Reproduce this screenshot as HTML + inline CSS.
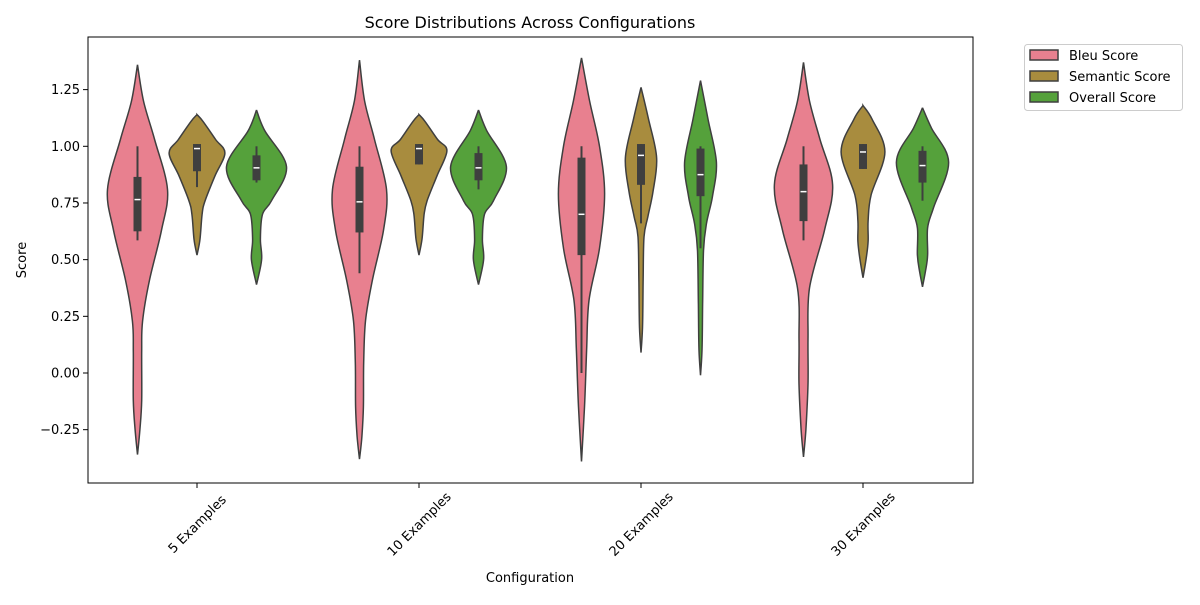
<!DOCTYPE html>
<html><head><meta charset="utf-8"><style>
body{margin:0;background:#fff;}
svg text{font-family:"DejaVu Sans","Liberation Sans",sans-serif;fill:#000;}
</style></head><body>
<svg id="chart" width="1200" height="600" viewBox="0 0 1200 600">
<rect x="0" y="0" width="1200" height="600" fill="#fff"/>
<g id="plot"></g>
<rect x="88" y="37" width="885" height="446" fill="none" stroke="#000" stroke-width="1"/>
<text x="530" y="28" font-size="16" text-anchor="middle">Score Distributions Across Configurations</text>
<text x="530" y="582" font-size="13" text-anchor="middle">Configuration</text>
<text x="26" y="260" font-size="13" text-anchor="middle" transform="rotate(-90 26 260)">Score</text>
<g id="axes"></g>
<g>
<rect x="1024.5" y="44.5" width="158" height="66" rx="3" fill="#fff" stroke="#ccc"/>
<g><rect x="1030" y="50" width="28" height="10" fill="#e8808f" stroke="#3f3f3f" stroke-width="1.5"/><text x="1069" y="60" font-size="13">Bleu Score</text></g>
<g><rect x="1030" y="71" width="28" height="10" fill="#a88c3e" stroke="#3f3f3f" stroke-width="1.5"/><text x="1069" y="81" font-size="13">Semantic Score</text></g>
<g><rect x="1030" y="92" width="28" height="10" fill="#55a13b" stroke="#3f3f3f" stroke-width="1.5"/><text x="1069" y="102" font-size="13">Overall Score</text></g>
</g>
</svg>
<script>
const categories = ["5 Examples","10 Examples","20 Examples","30 Examples"];
const seriesNames = ["Bleu Score","Semantic Score","Overall Score"];
const yTicks = [-0.25,0,0.25,0.5,0.75,1.0,1.25];
const yTickLabels = ["\u22120.25","0.00","0.25","0.50","0.75","1.00","1.25"];
// density outlines: score levels (top->bottom) and relative widths
const bleu5Vals = [1.36,1.20,1.03,0.81,0.63,0.41,0.23,0.10,-0.12,-0.25,-0.36];
const bleu5Dens = [0,0.2,0.57,1,0.8,0.4,0.17,0.14,0.14,0.08,0];
const sem5Vals = [1.14,1.11,1.03,0.97,0.87,0.76,0.70,0.59,0.52];
const sem5Dens = [0,0.2,0.62,0.93,0.6,0.27,0.17,0.1,0];
const ovr5Vals = [1.16,1.07,0.91,0.76,0.70,0.59,0.50,0.39];
const ovr5Dens = [0,0.27,1,0.5,0.2,0.13,0.17,0];
const bleu10Vals = [1.38,1.20,1.03,0.81,0.63,0.41,0.23,0.05,-0.15,-0.28,-0.38];
const bleu10Dens = [0,0.17,0.5,0.9,0.8,0.43,0.2,0.14,0.13,0.08,0];
const sem10Vals = [1.14,1.11,1.03,0.98,0.87,0.76,0.70,0.59,0.52];
const sem10Dens = [0,0.2,0.62,0.93,0.6,0.27,0.17,0.1,0];
const ovr10Vals = [1.16,1.07,0.91,0.76,0.70,0.59,0.50,0.39];
const ovr10Dens = [0,0.27,0.93,0.5,0.2,0.13,0.17,0];
const bleu20Vals = [1.39,1.20,1.00,0.79,0.55,0.32,0.10,-0.15,-0.39];
const bleu20Dens = [0,0.27,0.6,0.77,0.6,0.25,0.17,0.1,0];
const sem20Vals = [1.26,1.12,0.95,0.80,0.69,0.60,0.40,0.20,0.09];
const sem20Dens = [0,0.25,0.52,0.4,0.23,0.1,0.07,0.05,0];
const ovr20Vals = [1.29,1.12,0.93,0.78,0.66,0.54,0.30,0.10,-0.01];
const ovr20Dens = [0,0.25,0.53,0.4,0.2,0.1,0.07,0.05,0];
const bleu30Vals = [1.37,1.20,1.03,0.83,0.63,0.375,0.15,-0.05,-0.25,-0.37];
const bleu30Dens = [0,0.2,0.55,0.97,0.7,0.2,0.15,0.15,0.08,0];
const sem30Vals = [1.18,1.12,0.975,0.785,0.67,0.58,0.50,0.42];
const sem30Dens = [0,0.3,0.73,0.27,0.17,0.17,0.1,0];
const ovr30Vals = [1.17,1.08,0.93,0.73,0.64,0.52,0.45,0.38];
const ovr30Dens = [0,0.3,0.87,0.37,0.17,0.17,0.1,0];
// box stats: [whiskerLow, q1, median, q3, whiskerHigh]
const bleu5Box = [0.585,0.625,0.765,0.865,1.0];
const sem5Box = [0.82,0.89,0.99,1.01,1.01];
const ovr5Box = [0.84,0.85,0.905,0.96,1.0];
const bleu10Box = [0.44,0.62,0.755,0.91,1.0];
const sem10Box = [0.92,0.92,0.99,1.01,1.01];
const ovr10Box = [0.81,0.85,0.905,0.97,1.0];
const bleu20Box = [0.0,0.52,0.70,0.95,1.0];
const sem20Box = [0.66,0.83,0.96,1.01,1.01];
const ovr20Box = [0.55,0.78,0.875,0.99,1.0];
const bleu30Box = [0.585,0.67,0.80,0.92,1.0];
const sem30Box = [0.90,0.90,0.975,1.01,1.01];
const ovr30Box = [0.76,0.84,0.915,0.98,1.0];

const violinVals = [[bleu5Vals,sem5Vals,ovr5Vals],[bleu10Vals,sem10Vals,ovr10Vals],[bleu20Vals,sem20Vals,ovr20Vals],[bleu30Vals,sem30Vals,ovr30Vals]];
const violinDens = [[bleu5Dens,sem5Dens,ovr5Dens],[bleu10Dens,sem10Dens,ovr10Dens],[bleu20Dens,sem20Dens,ovr20Dens],[bleu30Dens,sem30Dens,ovr30Dens]];
const boxes = [[bleu5Box,sem5Box,ovr5Box],[bleu10Box,sem10Box,ovr10Box],[bleu20Box,sem20Box,ovr20Box],[bleu30Box,sem30Box,ovr30Box]];

const colors = ["#e8808f","#a88c3e","#55a13b"];
const NS="http://www.w3.org/2000/svg";
function y(v){return 373 - v*226.7;}
function xc(i,j){return 197 + i*222 + (j-1)*59.5;}
const HW=30;
function mk(tag,attrs,parent){const e=document.createElementNS(NS,tag);for(const k in attrs)e.setAttribute(k,attrs[k]);parent.appendChild(e);return e;}
function smooth(pts){
  let d="M"+pts[0][0]+","+pts[0][1];
  for(let i=0;i<pts.length-1;i++){
    const p0=pts[Math.max(0,i-1)],p1=pts[i],p2=pts[i+1],p3=pts[Math.min(pts.length-1,i+2)];
    const c1=[p1[0]+(p2[0]-p0[0])/6,p1[1]+(p2[1]-p0[1])/6];
    const c2=[p2[0]-(p3[0]-p1[0])/6,p2[1]-(p3[1]-p1[1])/6];
    d+=" C"+c1[0].toFixed(1)+","+c1[1].toFixed(1)+" "+c2[0].toFixed(1)+","+c2[1].toFixed(1)+" "+p2[0].toFixed(1)+","+p2[1].toFixed(1);
  }
  return d;
}
const plot=document.getElementById('plot');
const axes=document.getElementById('axes');
for(let i=0;i<categories.length;i++){
  for(let j=0;j<3;j++){
    const cx=xc(i,j), vals=violinVals[i][j], dens=violinDens[i][j];
    const right=vals.map((v,k)=>[cx+dens[k]*HW,y(v)]);
    const left=vals.map((v,k)=>[cx-dens[k]*HW,y(v)]).reverse();
    const d=smooth(right)+" "+smooth(left).replace(/^M/,"L")+" Z";
    const p=mk('path',{d:d,fill:colors[j],stroke:"#3f3f3f","stroke-width":1.5},plot);
    
    
    const b=boxes[i][j];
    const w=mk('line',{x1:cx,x2:cx,y1:y(b[0]),y2:y(b[4]),stroke:"#3f3f3f","stroke-width":2},plot);
    
    
    const r=mk('rect',{x:cx-4,y:y(b[3]),width:8,height:y(b[1])-y(b[3]),fill:"#3f3f3f"},plot);
    
    
    const m=mk('line',{x1:cx-3,x2:cx+3,y1:y(b[2]),y2:y(b[2]),stroke:"#fff","stroke-width":1.5},plot);
    
    
  }
  const gx=xc(i,1);
  const t=mk('line',{x1:gx,x2:gx,y1:483,y2:488,stroke:"#000"},axes);
  
  
  const ly=524;
  const lbl=mk('text',{x:gx,y:ly+4.5,"font-size":13,"text-anchor":"middle",transform:"rotate(-45 "+gx+" "+ly+")"},axes);
  lbl.textContent=categories[i];
  
  
}
yTicks.forEach((v,k)=>{
  const t=mk('line',{x1:83,x2:88,y1:y(v),y2:y(v),stroke:"#000"},axes);
  
  
  const l=mk('text',{x:80,y:y(v)+4.5,"font-size":13,"text-anchor":"end"},axes);
  l.textContent=yTickLabels[k];
  
  
});
</script>
</body></html>
